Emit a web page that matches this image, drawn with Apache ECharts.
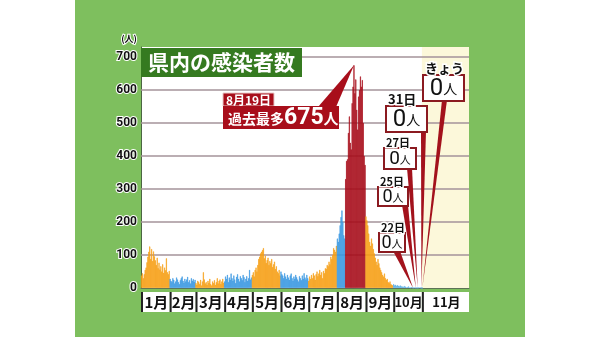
<!DOCTYPE html>
<html><head><meta charset="utf-8">
<script src="https://cdn.jsdelivr.net/npm/echarts@6/dist/echarts.min.js"></script>
<style>
html,body{margin:0;padding:0;background:#fff;width:600px;height:337px;overflow:hidden}
#c{position:absolute;left:75px;top:0;width:450px;height:337px;background:#7ebf5e}
</style></head><body><div id="c"></div>
<script>
// ---- data (daily new cases, 2021) ----
const monthLabels = ['1月','2月','3月','4月','5月','6月','7月','8月','9月','10月','11月'];
const yTicks = [100,200,300,400,500,600,700];
const jan = [38,45,30,42,55,62,78,95,110,126,88,118,82,111,96,84,70,92,60,77,56,66,50,72,46,62,54,90,48,42,52];
const feb = [28,22,18,30,25,14,20,32,26,18,12,24,30,35,22,16,28,20,26,34,18,24,14,30,22,27,19,25];
const mar = [15,10,22,18,12,25,8,20,48,26,14,18,10,22,16,28,12,8,20,15,24,10,18,30,14,22,26,12,20,28,16];
const apr = [20,35,28,40,18,32,25,44,30,22,38,26,15,34,42,28,20,36,30,24,40,33,18,28,36,22,30,55,26,32];
const may = [40,48,35,55,62,50,70,88,95,105,110,115,121,90,98,76,85,92,70,82,75,88,64,72,80,58,66,50,45,55,38];
const jun = [50,42,38,30,45,35,28,40,32,25,38,44,30,22,35,28,40,33,26,20,36,30,24,38,28,45,32,26,40,30];
const jul = [22,35,28,40,30,45,38,25,42,50,36,44,55,40,48,30,52,45,60,58,70,66,80,72,95,88,100,121,116,110,128];
const augEarly = [150,140,165,190,215,235,200,160,150];
const augPeak = [330,385,390,470,520,440,420,560,610,675,590,632,540,480,580,600,641,610,630,500,400,373];
const sep = [217,205,190,165,140,128,150,135,118,105,92,80,70,88,75,62,55,48,40,35,44,30,25,28,18,15,20,12,10,8];
const oct = [12,8,10,6,9,7,5,8,6,4,5,3,6,4,2,3,5,2,1,3,2,0,1,2,0,1,0,1,2,1,0];
const nov = [0];
const monthDays = [31,28,31,30,31,30,31,31,30,31];
const axisDays = 355;
const peakLabel = '8月19日';
const peakTitle = '過去最多';
const peakDay = 230, peakValue = 675;
const zeroDates = ['22日','25日','27日','31日','きょう'];
const zeroDays = [294,297,299,303,304];
const zeroCounts = [0,0,0,0,0];

// ---- styles / layout ----
const ORANGE='#f6a015', BLUE='#3a98e2', LBLUE='#59ade6', RED='#a80e1b';
const segments = [
  [jan,ORANGE],[feb,BLUE],[mar,ORANGE],[apr,BLUE],[may,ORANGE],[jun,BLUE],[jul,ORANGE],
  [augEarly,BLUE],[augPeak,RED],[sep,ORANGE],[oct,LBLUE],[nov,LBLUE]
];
const barData = [];
segments.forEach(([vals,color]) => vals.forEach(v => barData.push({value:v, itemStyle:{color, borderColor:color, borderWidth:0.6}})));
const cats = [];
for (let i=0;i<axisDays;i++){ const d=new Date(2021,0,1+i); cats.push((d.getMonth()+1)+'/'+d.getDate()); }
const mStart=[0]; monthDays.forEach(d=>mStart.push(mStart[mStart.length-1]+d));
const monthRanges = monthLabels.map((m,i)=>[mStart[i], i<monthLabels.length-1 ? mStart[i+1]-1 : axisDays-1]);
const novStart = mStart[10];

const JP = '"Noto Sans CJK JP"';
const zeroLayout = [
  {x:304,y:233,w:26,h:19,w0:318,w1:325,fs:18,ts:11},
  {x:303,y:187,w:30,h:19,w0:327,w1:333,fs:18,ts:11},
  {x:309,y:148,w:32,h:21,w0:332,w1:337,fs:19,ts:11},
  {x:311,y:106,w:41,h:26,w0:346,w1:351,fs:24,ts:13},
  {x:348,y:75,w:41,h:26,w0:367,w1:372,fs:24,ts:13}
];
const peakLayout = {x:148,tagY:93,tagW:51,tagH:13,y:106,w:116,h:23,w0:243,w1:261};

const chart = echarts.init(document.getElementById('c'));
chart.setOption({
  animation:false,
  title:{text:'県内の感染者数', left:66, top:48, backgroundColor:'#357a20', padding:[2,7,2,7],
    textStyle:{color:'#fff', fontSize:21, fontWeight:'bold', fontFamily:JP, lineHeight:25}},
  grid:{left:66,right:56,top:47,bottom:49,show:true,backgroundColor:'#fff',borderWidth:0},
  xAxis:{type:'category', data:cats, boundaryGap:true, axisLabel:{show:false}, axisTick:{show:false},
    axisLine:{show:true,lineStyle:{color:'#5d7356',width:1}}},
  yAxis:{type:'value', min:0, max:730, interval:100, splitLine:{show:false},
    axisLine:{show:true,lineStyle:{color:'#4b6642',width:1}}, axisTick:{show:false},
    axisLabel:{showMaxLabel:false, margin:4, color:'#111', fontWeight:'bold', fontSize:12, fontFamily:'Roboto',
      textBorderColor:'#fff', textBorderWidth:2},
    name:'(人)', nameLocation:'end', nameGap:4,
    nameTextStyle:{align:'right', color:'#111', fontSize:9, fontWeight:'bold', fontFamily:JP,
      textBorderColor:'#fff', textBorderWidth:2, padding:[0,4,0,0]}},
  series:[
    {type:'custom', z:1, silent:true, clip:true, data:[[novStart, 0]],
      renderItem(p, api){
        const bw = api.size([1,0])[0];
        const a = api.coord([api.value(0), 730]); const b = api.coord([axisDays-1, 0]);
        return {type:'rect', shape:{x:a[0]-bw/2, y:a[1], width:b[0]+bw/2-(a[0]-bw/2), height:b[1]-a[1]}, style:{fill:'#fcf8da'}};
      }},
    {type:'custom', z:2, silent:true, data:yTicks.map(v=>[0,v]),
      renderItem(p, api){
        const bw = api.size([1,0])[0];
        const a = api.coord([0, api.value(1)]); const b = api.coord([axisDays-1, api.value(1)]);
        return {type:'line', shape:{x1:a[0]-bw/2, y1:a[1], x2:b[0]+bw/2, y2:b[1]}, style:{stroke:'#a4939a', lineWidth:1.5}};
      }},
    {type:'bar', z:3, data:barData, barCategoryGap:'0%', silent:true},
    {type:'custom', z:5, silent:true, clip:false, data:monthRanges,
      renderItem(p, api){
        const bw = api.size([1,0])[0];
        const a = api.coord([api.value(0),0]); const b = api.coord([api.value(1),0]);
        const x0=a[0]-bw/2, x1=b[0]+bw/2, y=a[1]+4;
        const lab = monthLabels[p.dataIndex];
        const fs = lab.length > 2 ? 13 : 15;
        return {type:'group', children:[
          {type:'rect', shape:{x:x0,y:y,width:x1-x0,height:20}, style:{fill:'#fff'}},
          {type:'rect', shape:{x:x0,y:y,width:2,height:20}, style:{fill:'#222'}},
          {type:'text', style:{text:lab, x:(x0+x1)/2+1, y:y+10, align:'center', verticalAlign:'middle',
            font:'bold '+fs+'px '+JP, fill:'#111'}}
        ]};
      }},
    {type:'custom', z:10, silent:true, clip:false, data:[[peakDay, peakValue]],
      renderItem(p, api){
        const tip = api.coord([api.value(0), api.value(1)]);
        const L = peakLayout;
        return {type:'group', children:[
          {type:'polygon', shape:{points:[[L.w0,L.y+1],[L.w1,L.y+1],tip]}, style:{fill:RED}},
          {type:'rect', shape:{x:L.x,y:L.tagY,width:L.tagW,height:L.tagH}, style:{fill:RED, stroke:'#e9c9c9', lineWidth:1}},
          {type:'text', style:{text:peakLabel, x:L.x+L.tagW/2, y:L.tagY+L.tagH/2+1, align:'center', verticalAlign:'middle', font:'bold 12px '+JP, fill:'#fff'}},
          {type:'rect', shape:{x:L.x,y:L.y,width:L.w,height:L.h}, style:{fill:RED}},
          {type:'text', style:{text:'{a|'+peakTitle+'}{b|'+api.value(1)+'}{c|人}', x:L.x+5, y:L.y+L.h/2+1, align:'left', verticalAlign:'middle',
            rich:{a:{fontSize:14,fontWeight:'bold',fontFamily:JP,fill:'#fff'},
                  b:{fontSize:23,fontWeight:'bold',fontFamily:'Roboto',fill:'#fff'},
                  c:{fontSize:15,fontWeight:'bold',fontFamily:JP,fill:'#fff'}}}}
        ]};
      }},
    {type:'custom', z:10, silent:true, clip:false, data:zeroDays.map((d,i)=>[d, zeroCounts[i]]),
      renderItem(p, api){
        const i = p.dataIndex, L = zeroLayout[i];
        const tip = api.coord([api.value(0), api.value(1)]);
        return {type:'group', children:[
          {type:'polygon', shape:{points:[[L.w0,L.y+L.h-1],[L.w1,L.y+L.h-1],tip]}, style:{fill:'#a3121c'}},
          {type:'rect', shape:{x:L.x,y:L.y,width:L.w,height:L.h}, style:{fill:'#fff', stroke:'#8b1a20', lineWidth:2}},
          {type:'text', style:{text:'{n|'+api.value(1)+'}{u|人}', x:L.x+L.w/2, y:L.y+L.h/2+1, align:'center', verticalAlign:'middle',
            rich:{n:{fontSize:L.fs,fontFamily:'Roboto',fill:'#111'}, u:{fontSize:Math.round(L.fs*0.6),fontFamily:JP,fill:'#111'}}}},
          {type:'text', style:{text:zeroDates[i], x:L.x+2, y:L.y, align:'left', verticalAlign:'bottom',
            font:'bold '+L.ts+'px '+JP, fill:'#111', stroke:'#fff', lineWidth:3}}
        ]};
      }}
  ]
});
</script></body></html>
